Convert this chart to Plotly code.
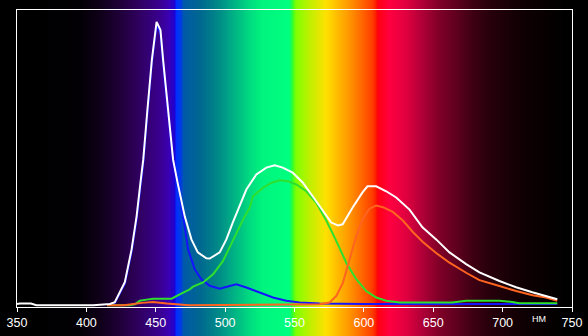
import plotly.graph_objects as go

# ---- data ----
white_nm = [350, 352, 360, 364, 405, 410, 417, 420.5, 427.7, 432.6, 436.2, 439, 441, 444, 447.2, 450.6,
            453.4, 455.3, 458.9, 462.5, 465.7, 470.9, 475.7, 480.3, 486.5, 488.9, 496.1, 500.9, 505.5,
            510.5, 515.3, 522.5, 529.7, 535.7, 541.5, 548.7, 555.9, 563.1, 570.3, 576.5, 581.3, 584.7,
            591.9, 599, 602.6, 608.9, 616.1, 623.3, 632.9, 642.2, 652.1, 661.7, 673.7, 683.3, 697.7,
            709.7, 721.4, 731.3, 739.4]
white_val = [0.004, 0.006, 0.006, 0.0, 0.0, 0.002, 0.004, 0.010, 0.078, 0.189, 0.301, 0.416, 0.493, 0.662,
             0.831, 0.960, 0.932, 0.831, 0.662, 0.493, 0.416, 0.301, 0.223, 0.179, 0.159, 0.158, 0.179,
             0.223, 0.280, 0.335, 0.392, 0.443, 0.466, 0.474, 0.466, 0.449, 0.416, 0.369, 0.319, 0.280,
             0.270, 0.274, 0.331, 0.382, 0.403, 0.403, 0.386, 0.365, 0.324, 0.264, 0.223, 0.179, 0.139,
             0.111, 0.082, 0.061, 0.044, 0.031, 0.020]

blue_nm = [415, 420.5, 427.7, 432.6, 436.2, 439, 441, 444, 447.2, 450.6, 453.4, 455.3, 458.9, 462.5,
           466.1, 469.7, 473.3, 478.1, 482.9, 488.9, 496.1, 503.3, 508.1, 515.3, 524.9, 534.5, 544.1,
           553.7, 568.1, 600, 650, 700, 739.4]
blue_val = [0.002, 0.008, 0.072, 0.180, 0.290, 0.405, 0.480, 0.650, 0.820, 0.950, 0.920, 0.820, 0.655,
            0.490, 0.416, 0.301, 0.189, 0.122, 0.088, 0.066, 0.056, 0.065, 0.071, 0.060, 0.043, 0.026,
            0.015, 0.009, 0.006, 0.004, 0.004, 0.004, 0.004]

green_nm = [415, 431, 435, 438.5, 443.4, 448.1, 461.4, 465, 467.3, 474.5, 476.9, 484.1, 491.3, 498.5,
            505.7, 512.9, 517.7, 520.1, 527.3, 533.3, 539.3, 545.3, 551.3, 558.5, 565.7, 572.9, 579.6,
            587.3, 594.5, 601.7, 608.9, 616.1, 625.7, 663.8, 673.7, 697.7, 707, 712, 739.4]
green_val = [0.0, 0.0, 0.003, 0.015, 0.019, 0.022, 0.022, 0.030, 0.037, 0.054, 0.063, 0.077, 0.105, 0.150,
             0.223, 0.290, 0.330, 0.369, 0.398, 0.415, 0.423, 0.420, 0.409, 0.386, 0.347, 0.287, 0.223,
             0.144, 0.088, 0.048, 0.026, 0.015, 0.009, 0.009, 0.015, 0.015, 0.011, 0.007, 0.007]

orange_nm = [415, 427, 440, 448, 458, 474, 568, 575.3, 580.1, 584.9, 589.7, 594.5, 599.3, 604.1, 608.9,
             613.7, 620.9, 628.1, 635.3, 642.5, 652.1, 661.7, 673.7, 683.3, 697.7, 709.7, 721.6, 731.3,
             739.4]
orange_val = [0.0, 0.0, 0.008, 0.011, 0.006, 0.0, 0.003, 0.009, 0.031, 0.076, 0.155, 0.234, 0.294, 0.327,
              0.338, 0.332, 0.316, 0.287, 0.248, 0.214, 0.177, 0.144, 0.110, 0.085, 0.065, 0.048, 0.034,
              0.026, 0.015]

x_ticks = [350, 400, 450, 500, 550, 600, 650, 700, 750]
unit_label = "НМ"

# ---- spectrum background colour stops (style) ----
spec_stops = [
    (350, "#000000"), (395, "#030005"), (410, "#10001a"), (424, "#200038"), (438, "#300060"),
    (453, "#3a0090"), (459, "#3c00b0"), (463.5, "#2000d0"), (465, "#0030ff"), (468.5, "#0040e0"),
    (470, "#005aa8"), (482, "#006890"), (496, "#008c88"), (508, "#00b884"), (518, "#00dc80"),
    (527, "#00f47e"), (546.5, "#00ff80"), (548.5, "#30ff30"), (551, "#80ff00"), (561, "#c0f000"),
    (573, "#ffe000"), (580, "#ffc000"), (587.5, "#ffa000"), (597, "#ff7000"), (606, "#ff4000"),
    (608.5, "#ff2000"), (610, "#ff0010"), (618.5, "#ff0040"), (630.7, "#e00040"), (642, "#b00038"),
    (654.5, "#800028"), (666.7, "#600020"), (678, "#400015"), (690.5, "#28000c"), (714, "#100004"),
    (738.7, "#040001"), (750, "#000000"),
]


def hex2rgb(h):
    return tuple(int(h[i:i + 2], 16) for i in (1, 3, 5))


def spec_color(w):
    for (a, ca), (b, cb) in zip(spec_stops[:-1], spec_stops[1:]):
        if a <= w <= b:
            t = (w - a) / (b - a) if b > a else 0
            ra, ga, ba = hex2rgb(ca)
            rb, gb, bb = hex2rgb(cb)
            return "rgb(%d,%d,%d)" % (round(ra + (rb - ra) * t), round(ga + (gb - ga) * t),
                                       round(ba + (bb - ba) * t))
    return "rgb(0,0,0)"


shapes = []
step = 0.75
w = 350.0
while w < 750:
    shapes.append(dict(type="rect", xref="x", yref="paper", x0=w, x1=min(w + 3 * step, 750), y0=-0.2, y1=1.1,
                       fillcolor=spec_color(w + step / 2), line=dict(width=0), layer="below"))
    w += step

fig = go.Figure()
fig.add_trace(go.Scatter(x=blue_nm, y=blue_val, mode="lines", line=dict(color="#1414ff", width=2),
                         hoverinfo="skip"))
fig.add_trace(go.Scatter(x=green_nm, y=green_val, mode="lines", line=dict(color="#2ee02e", width=2),
                         hoverinfo="skip"))
fig.add_trace(go.Scatter(x=orange_nm, y=orange_val, mode="lines", line=dict(color="#ff6420", width=2),
                         hoverinfo="skip"))
fig.add_trace(go.Scatter(x=white_nm, y=white_val, mode="lines", line=dict(color="#ffffff", width=2),
                         hoverinfo="skip"))

fig.add_annotation(x=726, xref="x", y=-0.042, yref="paper", text=unit_label, showarrow=False,
                   font=dict(family="Liberation Sans, Arial, sans-serif", size=9, color="white"),
                   yanchor="middle", xanchor="center")

fig.update_layout(
    width=588, height=336,
    margin=dict(l=17, r=16, t=10, b=29, autoexpand=False),
    paper_bgcolor="black", plot_bgcolor="black",
    showlegend=False,
    shapes=shapes,
    font=dict(family="Liberation Sans, Arial, sans-serif", color="white"),
    xaxis=dict(range=[350, 750], tickvals=x_ticks, ticktext=[str(t) for t in x_ticks],
               ticks="outside", ticklen=4, tickcolor="white", tickwidth=1,
               showline=True, linecolor="white", linewidth=1, mirror=True,
               showgrid=False, zeroline=False, tickfont=dict(size=12.5, color="white")),
    yaxis=dict(range=[-0.006, 1.0], showticklabels=False, ticks="", showgrid=False, zeroline=False,
               showline=True, linecolor="white", linewidth=1, mirror=True),
)

fig.write_html("out.html")
